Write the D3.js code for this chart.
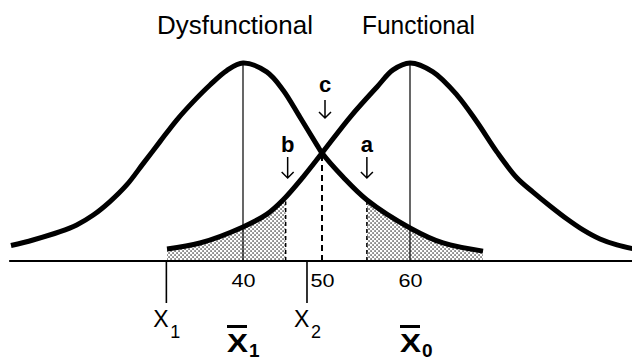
<!DOCTYPE html>
<html>
<head>
<meta charset="utf-8">
<script src="https://cdn.jsdelivr.net/npm/d3@7"></script>
<style>
body { margin: 0; background: #fff; }
text { font-family: "Liberation Sans", Arial, Helvetica, sans-serif; fill: #000; }
</style>
</head>
<body>
<div id="chart"></div>
<script>
// the two groups and their means
const groups = ['Dysfunctional', 'Functional']
const groupMeans = [40, 60]
const meanSubs = ['1', '0']

// curve outlines (score, relative height)
const dysX = [10.63, 13.42, 16.84, 18.95, 21.05, 23.16, 25.28, 27.38, 29.49, 31.61, 33.71, 35.82, 37.94, 40,
    43.0, 45.06, 47.2, 49.37, 50, 52.39, 55.11, 60, 63.75, 68.3]
const dysY = [0.078, 0.106, 0.148, 0.182, 0.232, 0.300, 0.384, 0.493, 0.603, 0.712, 0.805, 0.889, 0.962, 1.0,
    0.955, 0.864, 0.727, 0.585, 0.545, 0.424, 0.308, 0.167, 0.091, 0.05]
const funcX = [30.38, 34.56, 40, 43.04, 45.06, 47.6, 50, 53.2, 56.25, 58.07, 60,
    62.61, 65.34, 67.61, 69.89, 72.16, 73.98, 75.91, 77.84, 79.66, 81.59, 83.52, 85.45]
const funcY = [0.061, 0.091, 0.172, 0.237, 0.308, 0.424, 0.545, 0.727, 0.879, 0.965, 1.0,
    0.955, 0.838, 0.702, 0.55, 0.419, 0.348, 0.278, 0.212, 0.157, 0.111, 0.081, 0.061]

// axis ticks
const tickValues = [40, 50, 60]

// cut-off points b, c, a
const cutLabels = ['b', 'c', 'a']
const cutValues = [45.4, 50, 55.1]

// X1 and X2 marks
const limitValues = [30.3, 48.1]
const limitSubs = ['1', '2']

const width = 632
const height = 362

const x = d3.scaleLinear()
    .domain([40, 50, 60])
    .range([243, 322, 410])

const y = d3.scaleLinear()
    .domain([0, 1])
    .range([261, 63])

const svg = d3.select('#chart')
    .append('svg')
    .attr('width', width)
    .attr('height', height)

const dys = dysX.map((v, i) => ({ x: v, y: dysY[i] }))
const func = funcX.map((v, i) => ({ x: v, y: funcY[i] }))

const line = d3.line()
    .x(d => x(d.x))
    .y(d => y(d.y))
    .curve(d3.curveCatmullRom.alpha(0.5))

const area = d3.area()
    .x(d => x(d.x))
    .y0(y(0))
    .y1(d => y(d.y))
    .curve(d3.curveCatmullRom.alpha(0.5))

// stipple pattern for the shaded tails
const defs = svg.append('defs')
const pat = defs.append('pattern')
    .attr('id', 'dots')
    .attr('width', 4)
    .attr('height', 4)
    .attr('patternUnits', 'userSpaceOnUse')
pat.append('rect').attr('width', 4).attr('height', 4).attr('fill', '#fff')
pat.append('rect').attr('x', 0.4).attr('y', 0.4).attr('width', 1.3).attr('height', 1.3).attr('fill', '#111')
pat.append('rect').attr('x', 2.4).attr('y', 2.4).attr('width', 1.3).attr('height', 1.3).attr('fill', '#111')

defs.append('clipPath').attr('id', 'clipB')
    .append('rect')
    .attr('x', x(funcX[0]))
    .attr('y', 0)
    .attr('width', x(cutValues[0]) - x(funcX[0]))
    .attr('height', height)

defs.append('clipPath').attr('id', 'clipA')
    .append('rect')
    .attr('x', x(cutValues[2]))
    .attr('y', 0)
    .attr('width', x(dysX[dysX.length - 1]) - x(cutValues[2]))
    .attr('height', height)

svg.append('path')
    .datum(func)
    .attr('d', area)
    .attr('fill', 'url(#dots)')
    .attr('clip-path', 'url(#clipB)')

svg.append('path')
    .datum(dys)
    .attr('d', area)
    .attr('fill', 'url(#dots)')
    .attr('clip-path', 'url(#clipA)')

// thin lines at the means
svg.selectAll('.mean-line')
    .data(groupMeans)
    .enter()
    .append('line')
    .attr('class', 'mean-line')
    .attr('x1', d => x(d))
    .attr('x2', d => x(d))
    .attr('y1', y(1))
    .attr('y2', y(0))
    .attr('stroke', '#000')
    .attr('stroke-width', 1.2)

// dashed edges of the shaded tails
svg.append('line')
    .attr('x1', x(cutValues[0])).attr('x2', x(cutValues[0]))
    .attr('y1', y(0)).attr('y2', y(0.3))
    .attr('stroke', '#000').attr('stroke-width', 1.5)
    .attr('stroke-dasharray', '4,3')

svg.append('line')
    .attr('x1', x(cutValues[2])).attr('x2', x(cutValues[2]))
    .attr('y1', y(0)).attr('y2', y(0.3))
    .attr('stroke', '#000').attr('stroke-width', 1.5)
    .attr('stroke-dasharray', '4,3')

// dashed line under the crossing
svg.append('line')
    .attr('x1', x(cutValues[1])).attr('x2', x(cutValues[1]))
    .attr('y1', y(0)).attr('y2', y(0.545))
    .attr('stroke', '#000').attr('stroke-width', 2)
    .attr('stroke-dasharray', '6,4')

// the two curves
svg.append('path')
    .datum(dys)
    .attr('d', line)
    .attr('fill', 'none')
    .attr('stroke', '#000')
    .attr('stroke-width', 5)

svg.append('path')
    .datum(func)
    .attr('d', line)
    .attr('fill', 'none')
    .attr('stroke', '#000')
    .attr('stroke-width', 5)

// baseline
svg.append('line')
    .attr('x1', x(10.4)).attr('x2', width)
    .attr('y1', y(0)).attr('y2', y(0))
    .attr('stroke', '#000').attr('stroke-width', 2)

// tick labels
const xAxis = d3.axisBottom(x)
    .tickValues(tickValues)
    .tickSize(0)
    .tickPadding(12.5)
    .tickFormat(d3.format('d'))

const ax = svg.append('g')
    .attr('transform', `translate(0, ${y(0)})`)
    .call(xAxis)
ax.select('.domain').remove()
ax.selectAll('text')
    .attr('fill', '#000')
    .attr('textLength', 24)
    .attr('lengthAdjust', 'spacingAndGlyphs')
    .style('font-family', '"Liberation Sans", Arial, sans-serif')
    .style('font-size', '19px')

// X1 and X2 marks
svg.selectAll('.limit')
    .data(limitValues)
    .enter()
    .append('line')
    .attr('class', 'limit')
    .attr('x1', d => x(d)).attr('x2', d => x(d))
    .attr('y1', y(0)).attr('y2', 303)
    .attr('stroke', '#000').attr('stroke-width', 1.6)

limitValues.forEach((v, i) => {
    svg.append('text')
        .attr('x', x(v) - 13)
        .attr('y', 327)
        .style('font-size', '23px')
        .text('X')
    svg.append('text')
        .attr('x', x(v) + 4)
        .attr('y', 338)
        .style('font-size', '18px')
        .text(limitSubs[i])
})

// X-bar labels for the means
const meanOffsets = [-16, -10]
groupMeans.forEach((m, i) => {
    let left = x(m) + meanOffsets[i]
    svg.append('rect')
        .attr('x', left).attr('y', 325)
        .attr('width', 20).attr('height', 3)
        .attr('fill', '#000')
    svg.append('text')
        .attr('x', left)
        .attr('y', 352)
        .attr('textLength', 21)
        .attr('lengthAdjust', 'spacingAndGlyphs')
        .style('font-size', '25px')
        .style('font-weight', 'bold')
        .text('X')
    svg.append('text')
        .attr('x', left + 22)
        .attr('y', 357)
        .style('font-size', '19px')
        .style('font-weight', 'bold')
        .text(meanSubs[i])
})

// group titles
const titleX = [157, 362]
const titleLen = [156, 113]
svg.selectAll('.title')
    .data(groups)
    .enter()
    .append('text')
    .attr('class', 'title')
    .attr('x', (d, i) => titleX[i])
    .attr('y', 34)
    .attr('textLength', (d, i) => titleLen[i])
    .attr('lengthAdjust', 'spacingAndGlyphs')
    .style('font-size', '25px')
    .text(d => d)

// b, c, a markers with arrows
const arrowTop = [157, 100, 157]
const arrowBottom = [178, 118, 178]
const markShift = [2, 3, 0]
cutValues.forEach((v, i) => {
    let cx = x(v) + markShift[i]
    svg.append('text')
        .attr('x', cx)
        .attr('y', i == 1 ? 92 : 152)
        .attr('text-anchor', 'middle')
        .style('font-size', '22px')
        .style('font-weight', 'bold')
        .text(cutLabels[i])
    svg.append('path')
        .attr('d', `M${cx},${arrowTop[i]}V${arrowBottom[i]}M${cx - 6},${arrowBottom[i] - 6}L${cx},${arrowBottom[i]}L${cx + 6},${arrowBottom[i] - 6}`)
        .attr('fill', 'none')
        .attr('stroke', '#000')
        .attr('stroke-width', 1.5)
})
</script>
</body>
</html>
